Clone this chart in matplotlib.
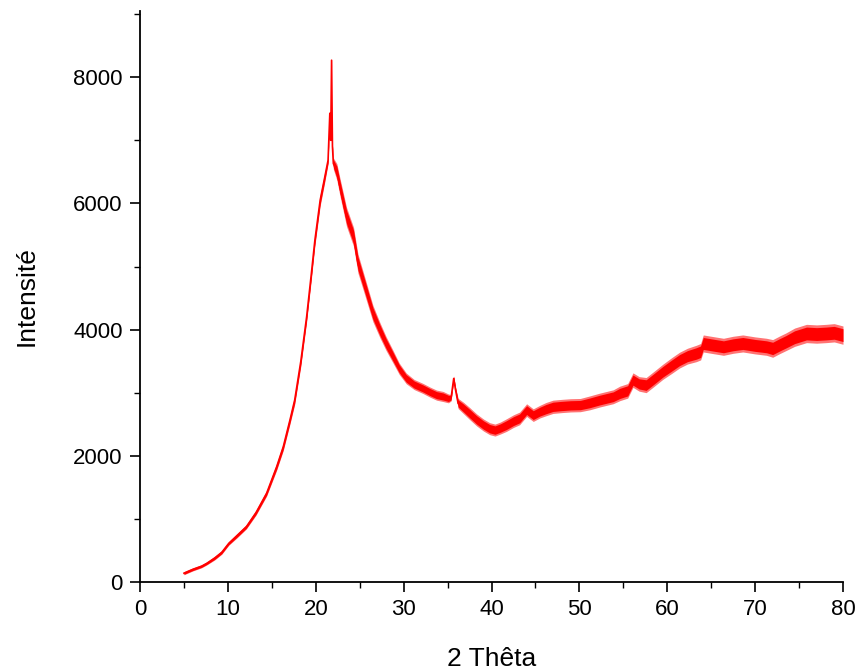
import numpy as np
import matplotlib.pyplot as plt
from matplotlib.ticker import MultipleLocator

plt.rcParams['font.family'] = ['Liberation Sans', 'DejaVu Sans']

############################################
# values
theta = [5.0, 6.0, 7.0, 7.6, 8.5, 9.3, 10.1, 11.0, 12.1, 13.2, 14.4, 15.55,
         16.3, 17.06, 17.6, 18.3, 18.96, 19.5, 19.9, 20.5, 21.0, 21.4, 21.6,
         21.7, 21.8, 21.9, 22.0, 22.4, 22.75, 23.5, 24.3, 24.8, 25.6, 26.5,
         27.3, 28.0, 28.8, 29.5, 30.3, 31.2, 32.2, 33.0, 33.75, 34.5, 35.1,
         35.4, 35.7, 35.9, 36.2, 36.8, 37.5, 38.3, 39.1, 39.8, 40.4, 41.0,
         41.7, 42.5, 43.2, 44.0, 44.75, 45.5, 46.2, 47.0, 48.0, 49.0, 50.1,
         51.2, 52.3, 53.85, 54.6, 55.5, 56.1, 56.8, 57.6, 58.5, 59.5, 60.5,
         61.4, 62.3, 63.3, 63.8, 64.1, 65.0, 66.4, 67.5, 68.6, 70.0, 71.3,
         72.0, 72.8, 73.5, 74.5, 75.85, 77.0, 78.1, 79.0, 80.0]
inten = [140, 200, 250, 296, 380, 470, 613, 730, 876, 1100, 1405, 1827,
         2143, 2566, 2883, 3500, 4203, 4890, 5418, 6051, 6400, 6685, 7430,
         7000, 8270, 6900, 6633, 6500, 6262, 5787, 5470, 5049, 4678, 4257,
         3992, 3780, 3569, 3380, 3227, 3130, 3068, 3010, 2962, 2940, 2910,
         2920, 3227, 3050, 2830, 2760, 2672, 2570, 2487, 2430, 2408, 2440,
         2487, 2550, 2593, 2725, 2645, 2700, 2740, 2777, 2790, 2800, 2804,
         2840, 2883, 2936, 2989, 3030, 3200, 3140, 3121, 3220, 3332, 3430,
         3517, 3580, 3622, 3650, 3781, 3760, 3728, 3760, 3781, 3750, 3728,
         3702, 3760, 3807, 3880, 3939, 3930, 3939, 3950, 3913]
# half width of the noise band (counts)
noise = [25, 25, 25, 25, 30, 30, 30, 35, 35, 40, 45, 55,
         60, 65, 70, 80, 80, 90, 90, 90, 80, 60, 30,
         30, 20, 30, 90, 130, 140, 150, 150, 150, 140, 130,
         120, 110, 100, 90, 85, 80, 80, 80, 80, 80, 70,
         50, 40, 50, 80, 90, 95, 95, 95, 95, 95, 95,
         100, 100, 100, 100, 100, 100, 105, 105, 105, 105, 105,
         110, 110, 110, 115, 115, 115, 115, 120, 120, 120, 125,
         125, 125, 130, 130, 135, 135, 135, 135, 135, 135, 135,
         140, 140, 140, 145, 145, 145, 145, 145, 145]

############################################
x = np.array(theta)
y = np.array(inten)
dy = np.array(noise)

fig = plt.figure(figsize=(8.58, 6.71), dpi=100)
ax = fig.add_axes([0.1632, 0.1326, 0.8193, 0.851])

ax.fill_between(x, y - dy, y + dy, color='#ff5050', lw=0, alpha=0.8)
ax.fill_between(x, y - 0.7 * dy, y + 0.7 * dy, color='#ff0000', lw=0)
ax.plot(x, y, '-', color='#ff0000', lw=1.2)

ax.set_xlim(0, 80)
ax.set_ylim(0, 9050)
ax.xaxis.set_major_locator(MultipleLocator(10))
ax.xaxis.set_minor_locator(MultipleLocator(5))
ax.yaxis.set_major_locator(MultipleLocator(2000))
ax.yaxis.set_minor_locator(MultipleLocator(1000))

ax.spines['top'].set_visible(False)
ax.spines['right'].set_visible(False)
for s in ['left', 'bottom']:
    ax.spines[s].set_linewidth(1.3)
ax.tick_params(which='major', direction='out', length=7, width=1.2,
               labelsize=16, pad=5.5)
ax.tick_params(which='minor', direction='out', length=4, width=1.0)

ax.set_xlabel('2 Thêta', fontsize=19, labelpad=19)
ax.set_ylabel('Intensité', fontsize=19, labelpad=25)

plt.savefig('out.png', dpi=100)
